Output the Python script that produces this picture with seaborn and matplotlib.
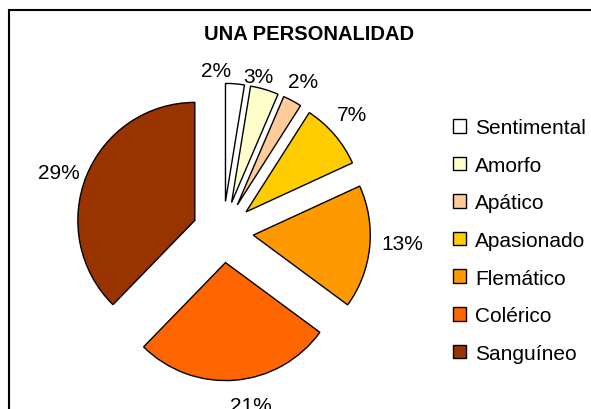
import matplotlib
matplotlib.use("Agg")
import matplotlib.pyplot as plt
import seaborn as sns
from matplotlib.patches import Rectangle

# datos del gráfico
categorias = ["Sentimental", "Amorfo", "Apático", "Apasionado", "Flemático", "Colérico", "Sanguíneo"]
porcentajes = [2, 3, 2, 7, 13, 21, 29]
etiquetas = ["2%", "3%", "2%", "7%", "13%", "21%", "29%"]
colores = ["#FFFFFF", "#FFFFCC", "#FFCC99", "#FFCC00", "#FF9900", "#FF6600", "#993300"]

# pequeños ajustes de las etiquetas (en píxeles, x a la derecha, y hacia abajo)
ajuste_x = [-21, -13, -1, -1, 8, 14, -5]
ajuste_y = [11, 11, 3, -4, -6, 1, 6]

sns.set_style("white")
plt.rcParams['font.family'] = ['Liberation Sans', 'DejaVu Sans']
plt.rcParams['text.color'] = 'black'

fig = plt.figure(figsize=(5.91, 4.10), dpi=100)
ax = fig.add_axes([47.5 / 591, 0, 351 / 591, 354 / 410])

wedges, textos = ax.pie(porcentajes, labels=etiquetas, colors=colores,
                        startangle=90, counterclock=False,
                        explode=[0.26] * len(porcentajes), labeldistance=1.21,
                        wedgeprops=dict(edgecolor='black', linewidth=1.0),
                        textprops=dict(fontsize=15, color='black'))
for t, dx, dy in zip(textos, ajuste_x, ajuste_y):
    x, y = t.get_position()
    t.set_position((x + dx / 117, y - dy / 118))
    t.set_ha('center')
    t.set_va('center')

ax.set_aspect('auto')
ax.set_xlim(-1.5, 1.5)
ax.set_ylim(-1.5, 1.5)

fig.text(309 / 591, 1 - 34 / 410, "UNA PERSONALIDAD", ha='center', va='center',
         fontsize=14.5, fontweight='bold', color='black')

fig.legend(wedges, categorias, loc='center left', bbox_to_anchor=(453 / 591, 1 - 241.5 / 410),
           frameon=False, fontsize=15, borderpad=0, borderaxespad=0,
           handlelength=0.625, handleheight=0.625,
           handletextpad=0.43, labelspacing=0.89, labelcolor='black')

# marco del área del gráfico
fig.add_artist(Rectangle((8.5 / 591, -0.1), 1.0, 1.1 - 11 / 410, transform=fig.transFigure,
                         fill=False, edgecolor='black', linewidth=1.5))

plt.savefig("out.png", dpi=100)
